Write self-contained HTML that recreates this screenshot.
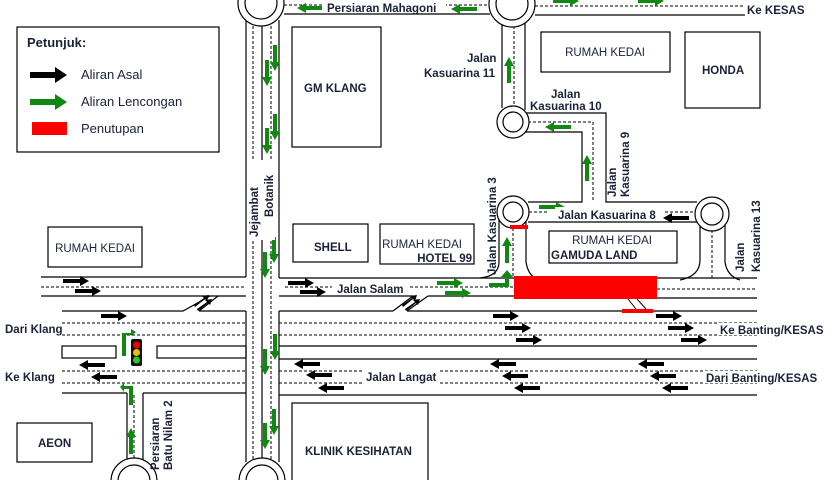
<!DOCTYPE html>
<html><head><meta charset="utf-8"><style>
html,body{margin:0;padding:0;background:#fff;}
svg{display:block}
text{font-family:"Liberation Sans",sans-serif;font-size:11.5px;fill:#1a2238;}
.b{font-weight:bold}
</style></head><body>
<svg width="831" height="480" viewBox="0 0 831 480" xmlns="http://www.w3.org/2000/svg">
<defs>
<path id="ar" d="M0,-2 H17 V-5 L26,0 L17,5 V2 H0 Z"/>
<path id="al" d="M26,-2 H9 V-5 L0,0 L9,5 V2 H26 Z"/>
<path id="ad" d="M-2,0 V17 H-5 L0,26 L5,17 H2 V0 Z"/>
<path id="au" d="M-2,26 V9 H-5 L0,0 L5,9 H2 V26 Z"/>
</defs>
<g stroke="#000" stroke-width="1.2" fill="none">
<!-- Vertical Jejambat -->
<line x1="246" y1="20" x2="246" y2="277"/><line x1="279" y1="20" x2="279" y2="278"/>
<line x1="246" y1="311" x2="246" y2="462"/><line x1="279" y1="311" x2="279" y2="462"/>
<line x1="262" y1="24" x2="262" y2="460"/>
<g stroke-dasharray="3,2" stroke-width="1"><line x1="253" y1="26" x2="253" y2="460"/><line x1="271" y1="26" x2="271" y2="460"/></g>
<!-- top road -->
<line x1="284" y1="14" x2="490" y2="14"/>
<line x1="535" y1="15" x2="745" y2="15"/>
<g stroke-dasharray="3,2" stroke-width="1"><line x1="284" y1="5" x2="490" y2="5"/><line x1="535" y1="6" x2="745" y2="6"/></g>
<!-- Kasuarina 11 -->
<line x1="502" y1="22" x2="502" y2="108"/><line x1="525" y1="22" x2="525" y2="110"/>
<line x1="514" y1="26" x2="514" y2="106" stroke-dasharray="3,2" stroke-width="1"/>
<!-- Kas 10 & 9 -->
<polyline points="525,113 606,113 606,202 697,202"/>
<polyline points="525,132 582,132 582,202 528,202"/>
<polyline points="528,122 593,122 593,202" stroke-dasharray="3,2" stroke-width="1"/>
<!-- Kas 8 -->
<line x1="528" y1="222" x2="697" y2="222"/>
<g stroke-dasharray="3,2" stroke-width="1"><line x1="529" y1="212" x2="548" y2="212"/><line x1="665" y1="212" x2="697" y2="212"/></g>
<!-- Kas 3 -->
<path d="M499,218 V262 Q499,276 480,278"/><path d="M526,222 V262 Q528,274 535,278"/>
<line x1="513" y1="228" x2="513" y2="277" stroke-dasharray="3,2" stroke-width="1"/>
<!-- Kas 13 -->
<path d="M700,222 V260 Q700,276 680,280"/><path d="M725,222 V262 Q727,276 740,280"/>
<line x1="712" y1="230" x2="712" y2="280" stroke-dasharray="3,2" stroke-width="1"/>
<!-- Jalan Salam left -->
<line x1="41" y1="277" x2="246" y2="277"/><line x1="41" y1="296" x2="246" y2="296"/>
<line x1="41" y1="287" x2="246" y2="287" stroke-dasharray="3,2" stroke-width="1"/>
<polyline points="62,311 183,311 210,296"/><polyline points="199,311 246,311"/><line x1="199" y1="311" x2="218" y2="296"/>
<!-- Jalan Salam right -->
<line x1="279" y1="278" x2="757" y2="278"/>
<polyline points="279,296 413,296"/><line x1="393" y1="311" x2="413" y2="296"/>
<line x1="428" y1="296" x2="514" y2="296"/><line x1="407" y1="311" x2="428" y2="296"/>
<line x1="279" y1="311" x2="393" y2="311"/><line x1="407" y1="311" x2="757" y2="311"/>
<line x1="657" y1="298" x2="757" y2="298"/>
<g stroke-dasharray="3,2" stroke-width="1"><line x1="285" y1="287" x2="514" y2="287"/><line x1="657" y1="289" x2="757" y2="289"/></g>
<line x1="628" y1="299" x2="636" y2="309" stroke-width="1"/><line x1="637" y1="299" x2="646" y2="309" stroke-width="1"/>
<!-- lower big road -->
<g stroke-dasharray="3,2" stroke-width="1">
<line x1="62" y1="323" x2="246" y2="323"/><line x1="62" y1="335" x2="246" y2="335"/>
<line x1="279" y1="323" x2="757" y2="323"/><line x1="279" y1="335" x2="757" y2="335"/>
<line x1="62" y1="371" x2="246" y2="371"/><line x1="62" y1="383" x2="246" y2="383"/>
<line x1="279" y1="371" x2="362" y2="371"/><line x1="279" y1="383" x2="362" y2="383"/>
<line x1="440" y1="371" x2="757" y2="371"/><line x1="440" y1="383" x2="757" y2="383"/>
</g>
<rect x="62" y="346" width="54" height="12"/><rect x="157" y="346" width="89" height="12"/>
<line x1="279" y1="346" x2="757" y2="346"/><line x1="279" y1="359" x2="757" y2="359"/>
<line x1="62" y1="393" x2="127" y2="393"/><line x1="143" y1="393" x2="246" y2="393"/>
<line x1="279" y1="395" x2="757" y2="395"/>
<!-- Batu Nilam -->
<line x1="127" y1="393" x2="127" y2="460"/><line x1="143" y1="393" x2="143" y2="460"/>
<line x1="134" y1="395" x2="134" y2="458" stroke-dasharray="3,2" stroke-width="1"/>
<!-- roundabouts -->
<g fill="#fff">
<circle cx="261" cy="3" r="23"/><circle cx="261" cy="3" r="16"/>
<circle cx="512" cy="4" r="23"/><circle cx="512" cy="4" r="16"/>
<circle cx="513" cy="122" r="16"/><circle cx="513" cy="122" r="10"/>
<circle cx="513" cy="212" r="16"/><circle cx="513" cy="212" r="10"/>
<circle cx="712" cy="214" r="17"/><circle cx="712" cy="214" r="11"/>
<circle cx="134" cy="481" r="23"/><circle cx="134" cy="481" r="16"/>
<circle cx="262" cy="481" r="23"/><circle cx="262" cy="481" r="16"/>
</g>
<!-- buildings -->
<rect x="17" y="27" width="202" height="125"/>
<rect x="292" y="27" width="89" height="120"/>
<rect x="541" y="32" width="129" height="40"/>
<rect x="685" y="32" width="75" height="76"/>
<rect x="48" y="227" width="94" height="40"/>
<rect x="293" y="224" width="75" height="38"/>
<rect x="380" y="224" width="94" height="40"/>
<rect x="549" y="231" width="128" height="32"/>
<rect x="17" y="423" width="75" height="39"/>
<rect x="292" y="403" width="136" height="80"/>
</g>
<!-- red closures -->
<rect x="514" y="276" width="143" height="23" fill="#ff0000"/>
<rect x="510" y="225" width="18" height="4" fill="#ff0000"/>
<rect x="622" y="309" width="31" height="4" fill="#ff0000"/>
<rect x="32" y="122" width="35" height="13" fill="#ff0000"/>
<!-- traffic light -->
<rect x="131" y="339" width="11" height="27" rx="2" fill="#111"/>
<circle cx="136.5" cy="345" r="3.5" fill="#e00"/><circle cx="136.5" cy="352.5" r="3.5" fill="#e8c000"/><circle cx="136.5" cy="360" r="3.5" fill="#2c2"/>
<!-- black arrows -->
<g fill="#000">
<path d="M30,-3 H55 V-8 L67,0 L55,8 V3 H30 Z" transform="translate(0,75)"/>
<use href="#ar" x="63" y="281"/><use href="#ar" x="75" y="291"/><use href="#ar" x="101" y="316"/>
<use href="#ar" x="288" y="283"/><use href="#ar" x="300" y="292"/>
<use href="#ar" x="493" y="316"/><use href="#ar" x="505" y="328"/><use href="#ar" x="516" y="340"/>
<use href="#ar" x="656" y="316"/><use href="#ar" x="668" y="328"/><use href="#ar" x="681" y="340"/>
<use href="#al" x="79" y="365"/><use href="#al" x="91" y="377"/>
<use href="#al" x="294" y="364"/><use href="#al" x="306" y="375"/><use href="#al" x="318" y="388"/>
<use href="#al" x="490" y="364"/><use href="#al" x="502" y="376"/><use href="#al" x="514" y="388"/>
<use href="#al" x="638" y="364"/><use href="#al" x="650" y="376"/><use href="#al" x="662" y="388"/>
<use href="#al" x="663" y="218"/>
<path d="M194,305 L204,298 L202,296 L209,295 L207,301 L205,299 L195,307 Z"/><path d="M197,309 L207,302 L205,300 L212,299 L210,305 L208,303 L198,311 Z"/>
<path d="M402,305 L412,298 L410,296 L417,295 L415,301 L413,299 L403,307 Z"/><path d="M405,309 L415,302 L413,300 L420,299 L418,305 L416,303 L406,311 Z"/>
</g>
<!-- green arrows -->
<g fill="#118811">
<path d="M30,-3 H55 V-8 L67,0 L55,8 V3 H30 Z" transform="translate(0,102)"/>
<use href="#ar" x="437" y="283"/><use href="#ar" x="445" y="293"/>
<path d="M489,283 H505 V277 H501 L507,270 L513,277 H509 V287 H489 Z"/>
<use href="#au" x="507" y="237"/>
<use href="#ar" x="539" y="207"/>
<use href="#au" x="587" y="155"/>
<use href="#al" x="545" y="127"/>
<use href="#au" x="509" y="57"/>
<use href="#al" x="451" y="9"/><use href="#al" x="297" y="8"/>
<use href="#ar" x="553" y="1"/><use href="#ar" x="638" y="1"/>
<use href="#ad" x="275" y="45"/><use href="#ad" x="267" y="60"/>
<use href="#ad" x="275" y="114"/><use href="#ad" x="267" y="128"/>
<use href="#ad" x="274" y="237"/><use href="#ad" x="265" y="252"/>
<use href="#ad" x="275" y="334"/><use href="#ad" x="265" y="349"/>
<use href="#ad" x="274" y="409"/><use href="#ad" x="265" y="423"/>
<path d="M122,356 V333 H131 V329 L136,332 L131,336 V335 H126 V356 Z"/>
<path d="M129,405 V389 H124 V392 L120,387 L124,383 V386 H133 V405 Z"/>
<use href="#au" x="131" y="428"/>
</g>
<!-- text -->
<text x="27" y="47" class="b" style="font-size:13px">Petunjuk:</text>
<text x="81" y="79" style="font-size:13px">Aliran Asal</text>
<text x="81" y="106" style="font-size:13px">Aliran Lencongan</text>
<text x="81" y="133" style="font-size:13px">Penutupan</text>
<g class="b">
<rect x="322" y="0" width="124" height="13" fill="#fff"/>
<text x="327" y="12">Persiaran Mahagoni</text>
<text x="747" y="14">Ke KESAS</text>
<text x="467" y="62">Jalan</text><text x="424" y="77">Kasuarina 11</text>
<text x="551" y="98">Jalan</text><text x="530" y="110">Kasuarina 10</text>
<text transform="translate(616,197) rotate(-90)">Jalan</text>
<text transform="translate(629,197) rotate(-90)">Kasuarina 9</text>
<rect x="555" y="207" width="108" height="13" fill="#fff"/>
<text x="558" y="219">Jalan Kasuarina 8</text>
<text transform="translate(496,275) rotate(-90)">Jalan Kasuarina 3</text>
<text transform="translate(744,272) rotate(-90)">Jalan</text>
<text transform="translate(760,272) rotate(-90)">Kasuarina 13</text>
<rect x="251" y="160" width="24" height="80" fill="#fff"/>
<text transform="translate(258,237) rotate(-90)">Jejambat</text>
<text transform="translate(273,217) rotate(-90)">Botanik</text>
<rect x="332" y="281" width="76" height="13" fill="#fff"/>
<text x="337" y="293">Jalan Salam</text>
<text x="5" y="333">Dari Klang</text>
<text x="5" y="381">Ke Klang</text>
<text x="366" y="381">Jalan Langat</text>
<rect x="717" y="323" width="110" height="12" fill="#fff"/>
<text x="720" y="334">Ke Banting/KESAS</text>
<rect x="703" y="371" width="125" height="12" fill="#fff"/>
<text x="706" y="382">Dari Banting/KESAS</text>
<text transform="translate(159,470) rotate(-90)">Persiaran</text>
<text transform="translate(172,470) rotate(-90)">Batu Nilam 2</text>
<text x="304" y="92">GM KLANG</text>
<text x="702" y="74">HONDA</text>
<text x="314" y="251">SHELL</text>
<text x="422" y="248" text-anchor="middle" style="font-weight:normal">RUMAH KEDAI</text>
<text x="472" y="262" text-anchor="end">HOTEL 99</text>
<text x="612" y="244" text-anchor="middle" style="font-weight:normal">RUMAH KEDAI</text>
<text x="551" y="259">GAMUDA LAND</text>
<text x="38" y="447">AEON</text>
<text x="305" y="455">KLINIK KESIHATAN</text>
</g>
<text x="605" y="56" text-anchor="middle">RUMAH KEDAI</text>
<text x="95" y="252" text-anchor="middle">RUMAH KEDAI</text>
</svg>
</body></html>
